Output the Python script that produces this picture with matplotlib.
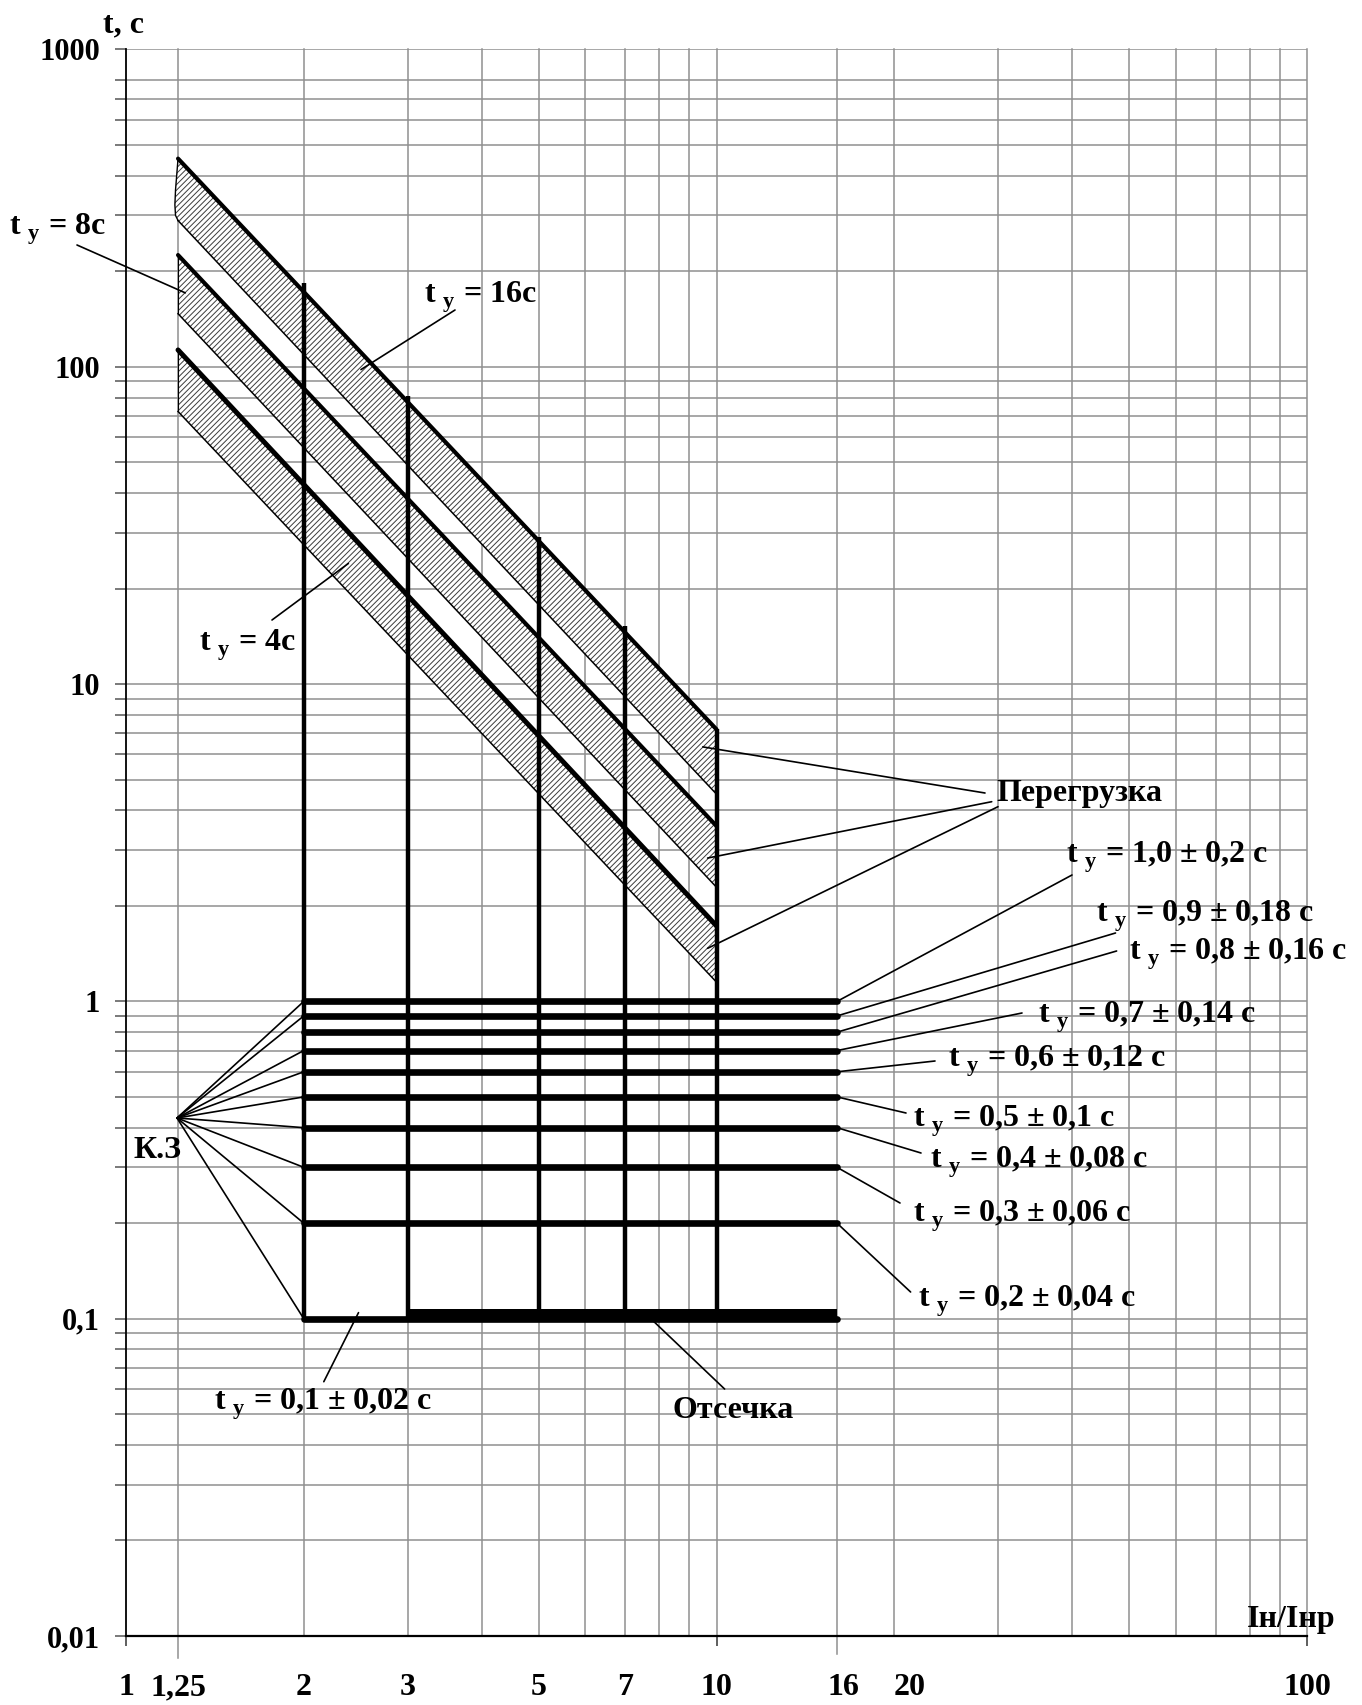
import matplotlib
matplotlib.use("Agg")
import matplotlib.pyplot as plt
import matplotlib.transforms as mtransforms
from matplotlib.ticker import FixedLocator, NullFormatter

OUTPUT_PATH = "out.png"
W, H = 1362, 1705

# ---- data ----
# the "1,25" column sits a little left of true 1.25 in the original drawing
X_START = 1.225
X_END = 10

# overload bands (upper bold line / lower thin line), t in seconds at X_START and X_END
band_names = ["16с", "8с", "4с"]
band_upper_start = [453, 225, 113]
band_upper_end = [7.2, 3.57, 1.73]
band_lower_start = [289, 147, 72.3]
band_lower_end = [4.5, 2.29, 1.15]

# curved left edge of the 16 s band
arc_x = [1.225, 1.213, 1.210, 1.213, 1.225]
arc_t = [453, 361, 324, 300, 289]

# vertical bold lines
vert_x = [2, 3, 5, 7, 10]
vert_top = [184, 81, 29, 15.2, 7.2]
vert_bottom = 0.1

# short-circuit settings
sc_times = [1.0, 0.9, 0.8, 0.7, 0.6, 0.5, 0.4, 0.3, 0.2, 0.1]
sc_text = ["1,0 ± 0,2", "0,9 ± 0,18", "0,8 ± 0,16", "0,7 ± 0,14", "0,6 ± 0,12",
           "0,5 ± 0,1", "0,4 ± 0,08", "0,3 ± 0,06", "0,2 ± 0,04", "0,1 ± 0,02"]
SC_X0, SC_X1 = 2, 16
kz_times = [1.0, 0.9, 0.7, 0.6, 0.5, 0.4, 0.3, 0.2, 0.1]

# instantaneous trip ("Отсечка") bar
cutoff_x = [3, 16]
cutoff_low, cutoff_high = 0.098, 0.1075

# axis
xtick_vals = [1, X_START, 2, 3, 5, 7, 10, 16, 20, 100]
xtick_text = ["1", "1,25", "2", "3", "5", "7", "10", "16", "20", "100"]
ytick_vals = [0.01, 0.1, 1, 10, 100, 1000]
ytick_text = ["0,01", "0,1", "1", "10", "100", "1000"]
grid_x = [X_START, 2, 3, 4, 5, 6, 7, 8, 9, 10, 16, 20, 30, 40, 50, 60, 70, 80, 90, 100]
grid_t = [m * 10.0 ** k for k in range(-2, 3) for m in range(1, 10)
          if not (k == 2 and m == 9)] + [1000]

FONT = dict(family="Liberation Serif", fontweight="bold", fontsize=23)
GRID_C = "#8f8f8f"


def ff(px, py):
    return px / W, 1 - py / H


def sub_label(value):
    return "t $_\\mathregular{у}$ = " + value


def leader(ax, xy, px, py, lw=1.2):
    ax.annotate("", xy=xy, xycoords="data", xytext=ff(px, py),
                textcoords="figure fraction", annotation_clip=False,
                arrowprops=dict(arrowstyle="-", color="black", lw=lw,
                                shrinkA=0, shrinkB=0), zorder=6)


def main():
    plt.rcParams["hatch.linewidth"] = 0.7
    fig = plt.figure(figsize=(W / 100, H / 100), dpi=100)
    ax = fig.add_axes([126 / W, 1 - 1636 / H, (1307 - 126) / W, (1636 - 49.5) / H])
    ax.set_xscale("log")
    ax.set_yscale("log")
    ax.set_xlim(1, 100)
    ax.set_ylim(0.01, 1000)

    ax_h = 1636 - 49.5
    # grid
    for x in grid_x:
        ext = 0
        if x == X_START:
            ext = 22 / ax_h
        elif x == 16:
            ext = 18 / ax_h
        ax.axvline(x, ymin=-ext, ymax=1, color=GRID_C, lw=1.1, zorder=1, clip_on=False)
    for t in grid_t:
        ax.axhline(t, color=GRID_C, lw=1.1, zorder=1)

    for s in ["top", "right"]:
        ax.spines[s].set_visible(False)
    ax.spines["left"].set_linewidth(1.3)
    ax.spines["bottom"].set_linewidth(1.6)
    ax.spines["left"].set_zorder(3)
    ax.spines["bottom"].set_zorder(3)

    ax.yaxis.set_major_locator(FixedLocator(ytick_vals))
    ax.set_yticklabels(ytick_text)
    ax.yaxis.set_minor_locator(FixedLocator(grid_t))
    ax.yaxis.set_minor_formatter(NullFormatter())
    ax.tick_params(axis="y", which="both", direction="out", length=8, width=1.1,
                   color="#555555", pad=10.5)
    for lab in ax.get_yticklabels():
        lab.set_fontproperties(matplotlib.font_manager.FontProperties(
            family="Liberation Serif", weight="bold", size=22))
        lab.set_verticalalignment("center_baseline")

    ax.set_xticks([1, 10, 100])
    ax.set_xticklabels([])
    ax.xaxis.set_minor_locator(FixedLocator([]))
    ax.tick_params(axis="x", which="major", direction="out", length=7.5, width=1.1,
                   color="#333333")

    # x tick labels
    xshift = {16: 6, 20: 15}
    base = mtransforms.blended_transform_factory(ax.transData, fig.transFigure)
    for v, s in zip(xtick_vals, xtick_text):
        tr = mtransforms.offset_copy(base, fig=fig, x=xshift.get(v, 0), y=0, units="dots")
        ax.text(v, 1 - 1695 / H, s, transform=tr, ha="center", va="baseline",
                clip_on=False, **FONT)

    # overload bands
    for i in range(len(band_names)):
        xs = [X_START, X_END]
        up = [band_upper_start[i], band_upper_end[i]]
        lo = [band_lower_start[i], band_lower_end[i]]
        if i == 0:
            poly_x = xs + [X_END, X_START] + arc_x[1:-1][::-1]
            poly_t = up + [lo[1], lo[0]] + arc_t[1:-1][::-1]
            ax.plot(arc_x, arc_t, color="black", lw=1.0, zorder=3)
        else:
            poly_x = xs + [X_END, X_START]
            poly_t = up + [lo[1], lo[0]]
            ax.plot([X_START, X_START], [lo[0], up[0]], color="black", lw=0.8, zorder=3)
        ax.fill(poly_x, poly_t, facecolor="white", edgecolor="#3c3c3c", hatch="//////",
                lw=0, zorder=2)
        ax.plot(xs, up, color="black", lw=3.6 if i == 2 else 3.0,
                solid_capstyle="round", zorder=3)
        ax.plot(xs, lo, color="black", lw=1.1, zorder=3)

    # vertical lines
    for x, top in zip(vert_x, vert_top):
        ax.plot([x, x], [vert_bottom, top], color="black", lw=3.2,
                solid_capstyle="butt", zorder=4)

    # short-circuit horizontal lines
    for t in sc_times:
        ax.plot([SC_X0, SC_X1], [t, t], color="black", lw=4.8,
                solid_capstyle="round", zorder=4)
    ax.fill_between(cutoff_x, cutoff_low, cutoff_high, color="black", lw=0, zorder=4)

    # К.З leaders
    for t in kz_times:
        leader(ax, (SC_X0, t), 177, 1118)
    fig.text(*ff(181, 1158), "К.З", ha="right", va="baseline", **FONT)

    # right-hand labels
    rl_end = [(1072, 875), (1115.5, 933), (1116.6, 951), (1022, 1013), (935, 1061),
              (906, 1113), (921, 1153), (900, 1203), (910.6, 1292)]
    rl_text = [(1066, 863), (1096.5, 922), (1129, 960), (1038.5, 1023), (948, 1067),
               (912.6, 1127), (930, 1168), (912.6, 1222), (918.5, 1307)]
    for t, s, (ex, ey), (tx, ty) in zip(sc_times[:-1], sc_text[:-1], rl_end, rl_text):
        leader(ax, (SC_X1, t), ex, ey)
        fig.text(*ff(tx, ty), sub_label(s + " с"), ha="left", va="baseline", **FONT)

    # 0,1 label and cutoff
    leader(ax, (2.476, 0.1045), 323.8, 1381.7)
    fig.text(*ff(213.5, 1410), sub_label(sc_text[-1] + " с"), ha="left", va="baseline", **FONT)
    leader(ax, (7.83, cutoff_low), 724.6, 1389)
    fig.text(*ff(673, 1418), "Отсечка", ha="left", va="baseline", **FONT)

    # overload label
    for xy, (px, py) in zip([(9.48, 6.34), (9.66, 2.83), (9.66, 1.47)],
                            [(985, 793), (991.7, 801.7), (998, 806.7)]):
        leader(ax, xy, px, py)
    fig.text(*ff(996, 801), "Перегрузка", ha="left", va="baseline", **FONT)

    # band labels
    leader(ax, (2.5, 98), 455, 310)
    fig.text(*ff(424, 303), sub_label(band_names[0]), ha="left", va="baseline", **FONT)
    leader(ax, (1.26, 171), 77, 245)
    fig.text(*ff(9, 235), sub_label(band_names[1]), ha="left", va="baseline", **FONT)
    leader(ax, (2.38, 24), 272, 620)
    fig.text(*ff(199, 651), sub_label(band_names[2]), ha="left", va="baseline", **FONT)

    # axis titles
    fig.text(*ff(103, 32), "t, с", ha="left", va="baseline", **FONT)
    fig.text(*ff(1335, 1627), "Iн/Iнр", ha="right", va="baseline", **FONT)

    fig.savefig(OUTPUT_PATH, dpi=100)
    plt.close(fig)


if __name__ == "__main__":
    main()
